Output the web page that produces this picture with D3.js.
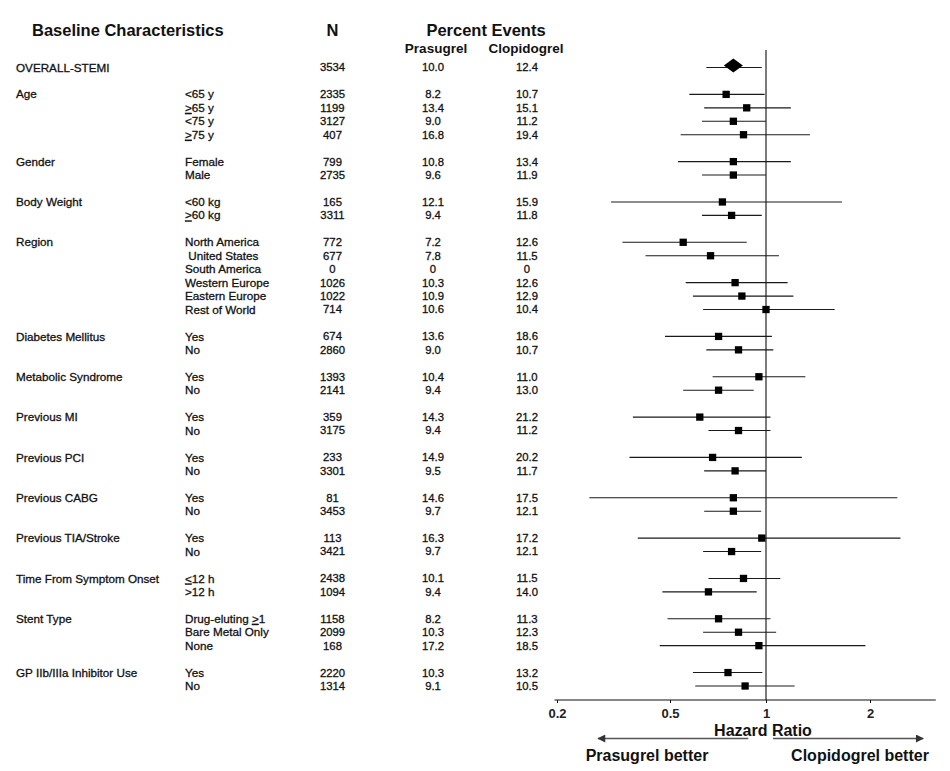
<!DOCTYPE html>
<html>
<head>
<meta charset="utf-8">
<script src="https://cdn.jsdelivr.net/npm/d3@7"></script>
<style>
  html, body { margin: 0; padding: 0; background: #fff; }
  svg text { font-family: "Liberation Sans", Arial, sans-serif; fill: #111; }
</style>
</head>
<body>
<svg id="chart" width="950" height="771"></svg>
<script>
// ---------- DATA ----------
const groupNames = ["OVERALL-STEMI","Age","Gender","Body Weight","Region","Diabetes Mellitus",
  "Metabolic Syndrome","Previous MI","Previous PCI","Previous CABG","Previous TIA/Stroke",
  "Time From Symptom Onset","Stent Type","GP IIb/IIIa Inhibitor Use"];
const rowGroup = [0,1,1,1,1,2,2,3,3,4,4,4,4,4,4,5,5,6,6,7,7,8,8,9,9,10,10,11,11,12,12,12,13,13];
const rowLabels = ["","<65 y","\u226565 y","<75 y","\u226575 y","Female","Male","<60 kg","\u226560 kg",
  "North America","\u00a0United States","South America","Western Europe","Eastern Europe","Rest of World",
  "Yes","No","Yes","No","Yes","No","Yes","No","Yes","No","Yes","No",
  "\u226412 h",">12 h","Drug-eluting \u22651","Bare Metal Only","None","Yes","No"];
const nValues = [3534,2335,1199,3127,407,799,2735,165,3311,772,677,0,1026,1022,714,674,2860,
  1393,2141,359,3175,233,3301,81,3453,113,3421,2438,1094,1158,2099,168,2220,1314];
const prasugrelPct = [10.0,8.2,13.4,9.0,16.8,10.8,9.6,12.1,9.4,7.2,7.8,0,10.3,10.9,10.6,13.6,9.0,
  10.4,9.4,14.3,9.4,14.9,9.5,14.6,9.7,16.3,9.7,10.1,9.4,8.2,10.3,17.2,10.3,9.1];
const clopidogrelPct = [12.4,10.7,15.1,11.2,19.4,13.4,11.9,15.9,11.8,12.6,11.5,0,12.6,12.9,10.4,18.6,10.7,
  11.0,13.0,21.2,11.2,20.2,11.7,17.5,12.1,17.2,12.1,11.5,14.0,11.3,12.3,18.5,13.2,10.5];
const hazardRatio = [0.79,0.75,0.87,0.79,0.85,0.79,0.79,0.73,0.78,0.55,0.67,null,0.80,0.84,1.00,0.71,0.82,
  0.95,0.71,0.62,0.82,0.68,0.80,0.79,0.79,0.97,0.78,0.85,0.66,0.71,0.82,0.95,0.76,0.86];
const ciLow = [0.65,0.575,0.64,0.63,0.54,0.53,0.63,0.31,0.63,0.34,0.41,null,0.56,0.59,0.635,0.48,0.65,
  0.68,0.55,0.37,0.66,0.36,0.64,0.26,0.64,0.385,0.635,0.66,0.47,0.49,0.635,0.46,0.59,0.60];
const ciHigh = [0.97,0.99,1.18,1.00,1.34,1.18,1.00,1.66,0.97,0.87,1.09,null,1.155,1.20,1.58,1.04,1.05,
  1.30,0.915,1.03,1.03,1.27,1.00,2.40,0.966,2.45,0.966,1.10,0.935,1.03,1.07,1.94,0.974,1.21];
const tickValues = [0.2, 0.5, 1, 2];
const tickLabels = ["0.2", "0.5", "1", "2"];

// ---------- LAYOUT ----------
const svg = d3.select("#chart");

const x = d3.scaleLog().domain([0.2, 0.5, 1, 2]).range([557, 670, 766, 870]);
const nSlots = rowLabels.length + groupNames.length - 2;
const y = d3.scaleLinear().domain([0, nSlots]).range([67.5, 686]);
const slotOf = i => i + rowGroup[i];

const axisY = 700;
const colN = 332.5, colP = 433, colC = 527;
const fmt = v => v === 0 ? "0" : d3.format(".1f")(v);

// Headers
svg.append("text").attr("x", 32).attr("y", 30).attr("dy", "0.35em")
  .style("font-size", "16.5px").style("font-weight", "bold").text("Baseline Characteristics");
svg.append("text").attr("x", colN).attr("y", 30).attr("dy", "0.35em").attr("text-anchor", "middle")
  .style("font-size", "16.5px").style("font-weight", "bold").text("N");
svg.append("text").attr("x", 486).attr("y", 30).attr("dy", "0.35em").attr("text-anchor", "middle")
  .style("font-size", "16.5px").style("font-weight", "bold").text("Percent Events");
svg.append("text").attr("x", 436).attr("y", 48.5).attr("dy", "0.35em").attr("text-anchor", "middle")
  .style("font-size", "13.5px").style("font-weight", "bold").text("Prasugrel");
svg.append("text").attr("x", 526).attr("y", 48.5).attr("dy", "0.35em").attr("text-anchor", "middle")
  .style("font-size", "13.5px").style("font-weight", "bold").text("Clopidogrel");

// Group labels
const firstRow = groupNames.map((g, gi) => rowGroup.indexOf(gi));
svg.append("g").selectAll("text").data(groupNames).join("text")
  .attr("x", 16).attr("y", (d, gi) => y(slotOf(firstRow[gi]))).attr("dy", "0.35em")
  .style("font-size", "11.7px").style("stroke", "#111").style("stroke-width", "0.3px")
  .text(d => d);

// Row labels with underlined > / < for >= / <=
const rows = rowLabels.map((l, i) => i);
const labelG = svg.append("g");
rows.forEach(i => {
  const lab = rowLabels[i];
  if (!lab) return;
  const t = labelG.append("text").attr("x", 185).attr("y", y(slotOf(i))).attr("dy", "0.35em")
    .style("font-size", "11.7px").style("stroke", "#111").style("stroke-width", "0.3px");
  const parts = lab.split(/([\u2264\u2265])/);
  parts.forEach(p => {
    if (p === "\u2265") t.append("tspan").style("text-decoration", "underline").text(">");
    else if (p === "\u2264") t.append("tspan").style("text-decoration", "underline").text("<");
    else if (p) t.append("tspan").text(p);
  });
});

// Numeric columns
function numCol(vals, cx, f) {
  svg.append("g").selectAll("text").data(rows).join("text")
    .attr("x", cx).attr("y", i => y(slotOf(i))).attr("dy", "0.35em").attr("text-anchor", "middle")
    .style("font-size", "11.3px").style("stroke", "#111").style("stroke-width", "0.3px")
    .text(i => f(vals[i]));
}
numCol(nValues, colN, v => String(v));
numCol(prasugrelPct, colP, fmt);
numCol(clopidogrelPct, colC, fmt);

// Reference line at HR = 1
svg.append("line").attr("x1", x(1)).attr("x2", x(1)).attr("y1", 50).attr("y2", axisY)
  .attr("stroke", "#333").attr("stroke-width", 1.3);

// CI lines
const valid = rows.filter(i => hazardRatio[i] != null);
svg.append("g").selectAll("line").data(valid).join("line")
  .attr("x1", i => x(ciLow[i])).attr("x2", i => x(ciHigh[i]))
  .attr("y1", i => y(slotOf(i))).attr("y2", i => y(slotOf(i)))
  .attr("stroke", "#1a1a1a").attr("stroke-width", 1.1);

// Markers: diamond for overall, squares otherwise
const sq = 7.3;
svg.append("g").selectAll("rect").data(valid.filter(i => i > 0)).join("rect")
  .attr("x", i => x(hazardRatio[i]) - sq / 2).attr("y", i => y(slotOf(i)) - sq / 2)
  .attr("width", sq).attr("height", sq).attr("fill", "#000");
svg.append("path")
  .attr("d", () => {
    const cx = x(hazardRatio[0]), cy = y(0) - 2;
    return `M${cx - 9.5},${cy}L${cx},${cy - 7}L${cx + 9.5},${cy}L${cx},${cy + 7}Z`;
  })
  .attr("fill", "#000");

// Axis
const axisMin = 0.196, axisMax = 3.1;
svg.append("line").attr("x1", x(axisMin)).attr("x2", x(axisMax)).attr("y1", axisY).attr("y2", axisY)
  .attr("stroke", "#111").attr("stroke-width", 1.2);
const axisG = svg.append("g").attr("transform", `translate(0,${axisY})`)
  .call(d3.axisBottom(x).tickValues(tickValues).tickSize(3).tickPadding(6)
    .tickFormat((d, i) => tickLabels[i]));
axisG.select(".domain").remove();
axisG.selectAll(".tick line").attr("stroke", "#111");
axisG.selectAll(".tick text").attr("font-family", null)
  .style("font-size", "13px").style("font-weight", "bold").style("fill", "#222");

svg.append("text").attr("x", 763).attr("y", 730.5).attr("dy", "0.35em").attr("text-anchor", "middle")
  .style("font-size", "16px").style("font-weight", "bold").text("Hazard Ratio");

// Direction arrows
const defs = svg.append("defs");
defs.append("marker").attr("id", "ah").attr("viewBox", "0 0 10 10").attr("refX", 9).attr("refY", 5)
  .attr("markerWidth", 11).attr("markerHeight", 8).attr("markerUnits", "userSpaceOnUse")
  .attr("orient", "auto")
  .append("path").attr("d", "M0,0L10,5L0,10Z").attr("fill", "#333");
const arrowY = 738.5;
svg.append("line").attr("x1", x(0.88)).attr("x2", x(0.279)).attr("y1", arrowY).attr("y2", arrowY)
  .attr("stroke", "#555").attr("stroke-width", 1.5).attr("marker-end", "url(#ah)");
svg.append("line").attr("x1", x(1.048)).attr("x2", x(2.85)).attr("y1", arrowY).attr("y2", arrowY)
  .attr("stroke", "#555").attr("stroke-width", 1.5).attr("marker-end", "url(#ah)");

svg.append("text").attr("x", 647).attr("y", 755.5).attr("dy", "0.35em").attr("text-anchor", "middle")
  .style("font-size", "16px").style("font-weight", "bold").text("Prasugrel better");
svg.append("text").attr("x", 860).attr("y", 755.5).attr("dy", "0.35em").attr("text-anchor", "middle")
  .style("font-size", "16px").style("font-weight", "bold").text("Clopidogrel better");
</script>
</body>
</html>
